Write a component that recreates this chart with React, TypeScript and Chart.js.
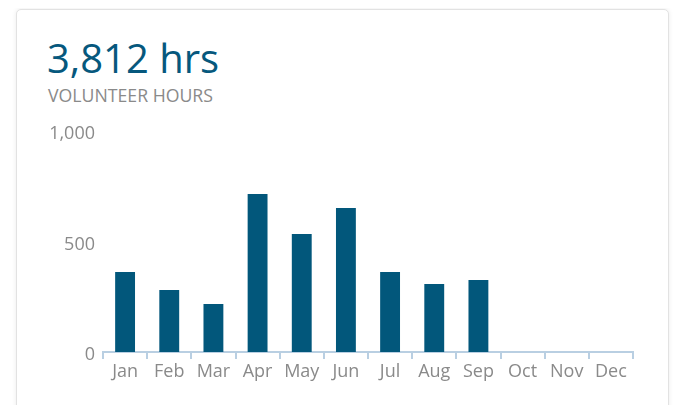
import React, { useEffect, useRef } from "react";
import { Chart, registerables } from "chart.js";

Chart.register(...registerables);

const months = ["Jan", "Feb", "Mar", "Apr", "May", "Jun", "Jul", "Aug", "Sep", "Oct", "Nov", "Dec"];
const hours = [362, 281, 217, 715, 534, 652, 362, 308, 326, null, null, null];
const yTicks = [0, 500, 1000];
const totalLabel = "3,812 hrs";
const subtitle = "VOLUNTEER HOURS";

const FONT = "'Open Sans', 'DejaVu Sans', sans-serif";
const BAR = "#02577b";
const AXIS = "#b9cfe2";
const GRAY = "#8a8a8a";

export default function App() {
  const ref = useRef<HTMLCanvasElement>(null);

  useEffect(() => {
    const canvas = ref.current;
    if (!canvas) return;
    const chart = new Chart(canvas, {
      type: "bar",
      data: {
        labels: months,
        datasets: [
          {
            data: hours as any,
            backgroundColor: BAR,
            borderWidth: 0,
            barPercentage: 0.45,
            categoryPercentage: 1,
          },
        ],
      },
      options: {
        animation: false,
        responsive: false,
        devicePixelRatio: 1,
        layout: { padding: { top: 21, right: 12, bottom: 0, left: 0 } },
        plugins: { legend: { display: false }, tooltip: { enabled: false } },
        scales: {
          x: {
            grid: {
              display: true,
              offset: true,
              drawOnChartArea: false,
              drawTicks: true,
              tickLength: 7,
              color: AXIS,
              lineWidth: 2,
            },
            border: { display: true, color: AXIS, width: 2 },
            ticks: {
              color: GRAY,
              font: { family: FONT, size: 18 },
              padding: 2,
              maxRotation: 0,
              autoSkip: false,
            },
            afterFit: (s: any) => {
              s.height = 53;
            },
          },
          y: {
            min: 0,
            max: 1000,
            grid: { display: false, drawTicks: false },
            border: { display: false },
            afterBuildTicks: (s: any) => {
              s.ticks = yTicks.map((v) => ({ value: v }));
            },
            ticks: {
              color: GRAY,
              font: { family: FONT, size: 18 },
              padding: 8,
              labelOffset: 3,
              callback: (v: any) => Number(v).toLocaleString("en-US"),
            },
            afterFit: (s: any) => {
              s.width = 63;
            },
          },
        },
      },
    });
    return () => chart.destroy();
  }, []);

  return (
    <div style={{ position: "relative", width: 691, height: 405 }}>
      <div
        style={{
          position: "absolute",
          left: 8,
          top: 1,
          width: 653,
          height: 440,
          boxSizing: "border-box",
          border: "1px solid #e2e2e2",
          borderRadius: 5,
          boxShadow: "0 0 5px rgba(0,0,0,0.08)",
          background: "#fff",
        }}
      />
      <div
        style={{
          position: "absolute",
          left: 39,
          top: 22,
          fontFamily: FONT,
          fontSize: 40,
          color: "#06587d",
          whiteSpace: "nowrap",
        }}
      >
        {totalLabel}
      </div>
      <div
        style={{
          position: "absolute",
          left: 40,
          top: 75,
          fontFamily: FONT,
          fontSize: 17.7,
          color: GRAY,
          whiteSpace: "nowrap",
        }}
      >
        {subtitle}
      </div>
      <canvas
        ref={ref}
        width={605}
        height={295}
        style={{ position: "absolute", left: 32, top: 102, width: 605, height: 295 }}
      />
    </div>
  );
}
